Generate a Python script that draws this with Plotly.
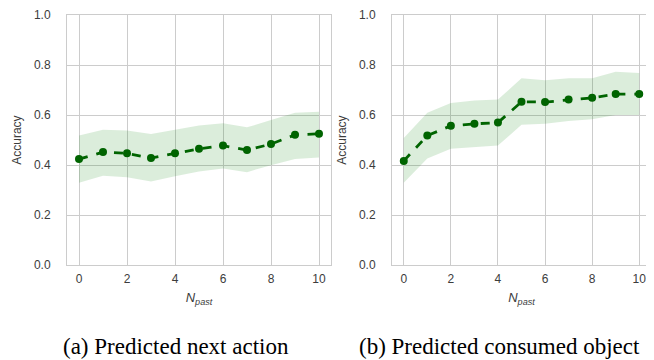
import plotly.graph_objects as go

n_past = [0, 1, 2, 3, 4, 5, 6, 7, 8, 9, 10]

# (a) Predicted next action
acc_a = [0.424, 0.452, 0.447, 0.428, 0.447, 0.465, 0.478, 0.460, 0.484, 0.521, 0.525]
upper_a = [0.518, 0.541, 0.538, 0.524, 0.541, 0.558, 0.567, 0.551, 0.580, 0.609, 0.613]
lower_a = [0.330, 0.358, 0.352, 0.335, 0.356, 0.375, 0.387, 0.372, 0.400, 0.424, 0.430]

# (b) Predicted consumed object
acc_b = [0.417, 0.518, 0.557, 0.565, 0.570, 0.653, 0.652, 0.662, 0.669, 0.684, 0.684]
upper_b = [0.508, 0.609, 0.648, 0.658, 0.662, 0.747, 0.739, 0.747, 0.747, 0.773, 0.768]
lower_b = [0.330, 0.426, 0.465, 0.473, 0.478, 0.561, 0.565, 0.576, 0.583, 0.600, 0.600]

captions = ["(a) Predicted next action", "(b) Predicted consumed object"]
x_ticks = [0, 2, 4, 6, 8, 10]
y_ticks = [0.0, 0.2, 0.4, 0.6, 0.8, 1.0]
y_tick_text = ["0.0", "0.2", "0.4", "0.6", "0.8", "1.0"]

LINE = "#006400"
BAND = "rgba(0,128,0,0.14)"
GRID = "#cccccc"
TXT = "#3c3c3c"

fig = go.Figure()
panels = [(acc_a, upper_a, lower_a), (acc_b, upper_b, lower_b)]
for i, (acc, up, lo) in enumerate(panels):
    xa = "x" if i == 0 else "x2"
    ya = "y" if i == 0 else "y2"
    fig.add_trace(go.Scatter(x=n_past, y=up, mode="lines", line=dict(width=0),
                             hoverinfo="skip", showlegend=False, xaxis=xa, yaxis=ya))
    fig.add_trace(go.Scatter(x=n_past, y=lo, mode="lines", line=dict(width=0),
                             fill="tonexty", fillcolor=BAND,
                             hoverinfo="skip", showlegend=False, xaxis=xa, yaxis=ya))
    fig.add_trace(go.Scatter(x=n_past, y=acc, mode="lines+markers",
                             line=dict(color=LINE, width=2.8, dash="dash"),
                             marker=dict(color=LINE, size=8),
                             showlegend=False, xaxis=xa, yaxis=ya))

axis_common = dict(showgrid=True, gridcolor=GRID, gridwidth=1, zeroline=False,
                   showline=True, linecolor=GRID, linewidth=1, mirror=True,
                   ticks="outside", tickcolor="rgba(0,0,0,0)",
                   ticklabeloverflow="allow",
                   tickfont=dict(family="Liberation Sans, Arial", size=12, color=TXT))

xtitle = dict(text="<i>N</i><sub><i>past</i></sub>",
              font=dict(family="Liberation Sans, Arial", size=13, color=TXT), standoff=8)
ytitle = dict(text="Accuracy", font=dict(family="Liberation Sans, Arial", size=12, color=TXT),
              standoff=9)

TOP = 6
H = 360 - TOP
fig.update_layout(
    width=654, height=360,
    margin=dict(l=0, r=0, t=TOP, b=0),
    paper_bgcolor="white", plot_bgcolor="white",
    xaxis=dict(domain=[59/654, 323/654], range=[-0.5, 10.5], tickvals=x_ticks,
               title=xtitle, anchor="y", ticklen=2, **axis_common),
    yaxis=dict(domain=[(360-262)/H, 1], range=[0, 1], tickvals=y_ticks,
               ticktext=y_tick_text, title=ytitle, anchor="x", ticklen=13,
               **axis_common),
    xaxis2=dict(domain=[384/654, 643/654], range=[-0.5, 10.5], tickvals=x_ticks,
                title=xtitle, anchor="y2", ticklen=2, **axis_common),
    yaxis2=dict(domain=[(360-262)/H, 1], range=[0, 1], tickvals=y_ticks,
                ticktext=y_tick_text, title=ytitle, anchor="x2", ticklen=13,
                **axis_common),
)

cap_x = [168/654, 491/654]
for cx, cap in zip(cap_x, captions):
    fig.add_annotation(x=cx, y=(360-345)/H, xref="paper", yref="paper", text=cap,
                       showarrow=False, xanchor="center", yanchor="middle",
                       font=dict(family="Liberation Serif, Times New Roman", size=23, color="black"))

fig.write_html("out.html")
